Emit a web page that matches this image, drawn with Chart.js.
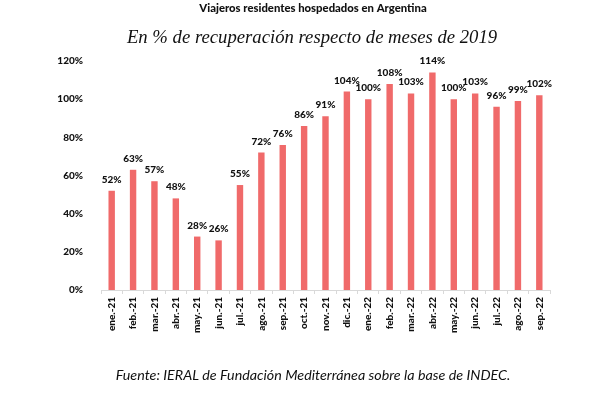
<!DOCTYPE html>
<html>
<head>
<meta charset="utf-8">
<script src="https://cdn.jsdelivr.net/npm/chart.js@4"></script>
<style>
  html, body { margin: 0; padding: 0; background: #fff; }
  #wrap { width: 611px; height: 398px; }
</style>
</head>
<body>
<div id="wrap"><canvas id="chart" width="611" height="398"></canvas></div>
<script>
const months = ["ene.-21", "feb.-21", "mar.-21", "abr.-21", "may.-21", "jun.-21", "jul.-21",
  "ago.-21", "sep.-21", "oct.-21", "nov.-21", "dic.-21", "ene.-22", "feb.-22", "mar.-22",
  "abr.-22", "may.-22", "jun.-22", "jul.-22", "ago.-22", "sep.-22"];
const recovery = [52, 63, 57, 48, 28, 26, 55, 72, 76, 86, 91, 104, 100, 108, 103, 114, 100, 103, 96, 99, 102];
const yTicks = [0, 20, 40, 60, 80, 100, 120];

const mainTitle = "Viajeros residentes hospedados en Argentina";
const subTitle = "En % de recuperación respecto de meses de 2019";
const source = "Fuente: IERAL de Fundación Mediterránea sobre la base de INDEC.";

const textColor = "#111";

// titles, source line and value labels
const textPlugin = {
  id: "texts",
  afterDraw(chart) {
    const ctx = chart.ctx;
    ctx.save();
    ctx.fillStyle = textColor;
    ctx.textAlign = "center";
    ctx.textBaseline = "middle";
    ctx.font = "900 11.3px Lato";
    ctx.fillText(mainTitle, 313, 8);
    ctx.font = "italic 18.7px 'Liberation Serif'";
    ctx.fillText(subTitle, 312, 38);
    ctx.font = "italic 14.3px Lato";
    ctx.fillText(source, 313, 375);

    ctx.font = "900 10px Lato";
    ctx.textBaseline = "alphabetic";
    const meta = chart.getDatasetMeta(0);
    meta.data.forEach((bar, i) => {
      ctx.fillText(recovery[i] + "%", bar.x, bar.y - 8);
    });
    ctx.restore();
  }
};

new Chart(document.getElementById("chart"), {
  type: "bar",
  data: {
    labels: months,
    datasets: [{
      data: recovery,
      backgroundColor: "#F06A6A",
      barPercentage: 0.3,
      categoryPercentage: 1
    }]
  },
  options: {
    responsive: false,
    animation: false,
    layout: { padding: { left: 0, right: 61, top: 61, bottom: 0 } },
    plugins: {
      legend: { display: false },
      tooltip: { enabled: false }
    },
    scales: {
      x: {
        grid: { offset: true, drawOnChartArea: false, tickLength: 4, color: "#d9d9d9" },
        border: { color: "#d9d9d9" },
        ticks: {
          minRotation: 90, maxRotation: 90, padding: 3,
          color: textColor, font: { family: "Lato", size: 10, weight: "900" }
        },
        afterFit(s) { s.height = 108; }
      },
      y: {
        min: 0, max: 120,
        afterBuildTicks(s) { s.ticks = yTicks.map(v => ({ value: v })); },
        grid: { display: false },
        border: { display: false },
        ticks: {
          padding: 10,
          color: textColor,
          font: { family: "Lato", size: 10, weight: "900" },
          callback: v => v + "%"
        },
        afterFit(s) { s.width = 101; }
      }
    }
  },
  plugins: [textPlugin]
});
</script>
</body>
</html>
